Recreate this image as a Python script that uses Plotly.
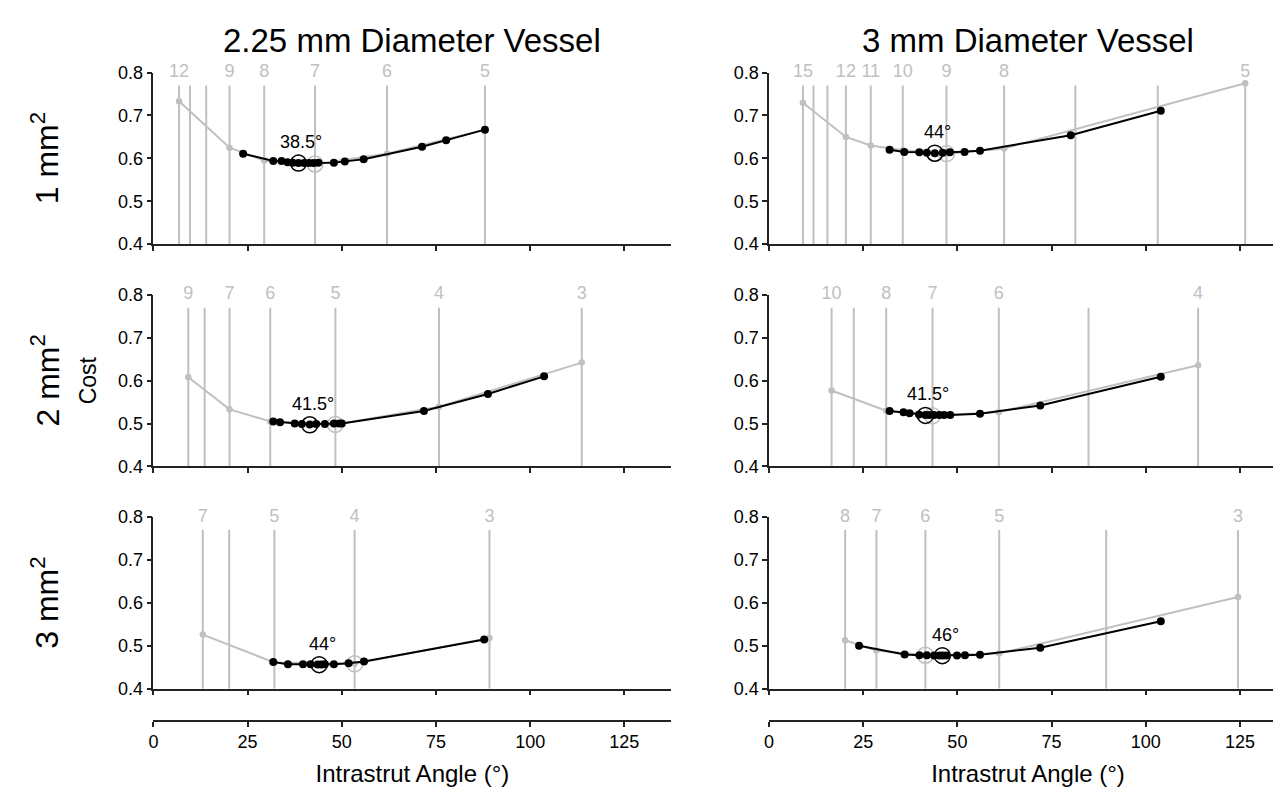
import plotly.graph_objects as go

# ---------------- data ----------------
col_titles = ["2.25 mm Diameter Vessel", "3 mm Diameter Vessel"]
row_titles = ["1 mm<sup>2</sup>", "2 mm<sup>2</sup>", "3 mm<sup>2</sup>"]
x_ticks = [0, 25, 50, 75, 100, 125]
y_ticks = [0.4, 0.5, 0.6, 0.7, 0.8]

# Panel row1/col1 (2.25 mm vessel, 1 mm2)
p11_strut_angle = [6.8, 9.7, 14.0, 20.2, 29.4, 42.9, 62.0, 88.0]
p11_strut_label = ["12", "", "", "9", "8", "7", "6", "5"]
p11_gray_angle = [6.8, 20.2, 29.4, 42.9, 62.0, 88.0]
p11_gray_cost = [0.733, 0.625, 0.595, 0.587, 0.611, 0.667]
p11_black_angle = [23.8, 31.8, 34.0, 35.6, 37.0, 38.5, 40.0, 41.3, 42.5, 43.8, 47.9, 50.8, 55.8, 71.3, 77.7, 88.0]
p11_black_cost = [0.611, 0.594, 0.594, 0.591, 0.590, 0.589, 0.589, 0.589, 0.589, 0.590, 0.590, 0.593, 0.598, 0.627, 0.642, 0.667]
p11_opt = (38.5, 0.589, "38.5°")
p11_gray_opt = (42.9, 0.587)

# Panel row1/col2 (3 mm vessel, 1 mm2)
p12_strut_angle = [9.0, 11.8, 15.5, 20.4, 27.0, 35.5, 47.1, 62.4, 81.3, 103.2, 126.4]
p12_strut_label = ["15", "", "", "12", "11", "10", "9", "8", "", "", "5"]
p12_gray_angle = [9.0, 20.4, 27.0, 35.5, 47.1, 62.4, 126.4]
p12_gray_cost = [0.7295, 0.650, 0.630, 0.619, 0.611, 0.623, 0.775]
p12_black_angle = [32.0, 35.9, 39.9, 41.9, 44.0, 46.1, 48.0, 51.9, 56.0, 80.1, 104.0]
p12_black_cost = [0.620, 0.615, 0.614, 0.613, 0.612, 0.613, 0.614, 0.615, 0.618, 0.654, 0.711]
p12_opt = (44.0, 0.612, "44°")
p12_gray_opt = (47.1, 0.611)

# Panel row2/col1 (2.25 mm vessel, 2 mm2)
p21_strut_angle = [9.25, 13.6, 20.2, 31.0, 48.3, 75.8, 113.7]
p21_strut_label = ["9", "", "7", "6", "5", "4", "3"]
p21_gray_angle = [9.25, 20.2, 31.0, 48.3, 75.8, 113.7]
p21_gray_cost = [0.608, 0.533, 0.505, 0.498, 0.539, 0.642]
p21_black_angle = [31.8, 33.6, 37.5, 39.4, 41.5, 43.2, 45.5, 47.9, 49.3, 50.0, 71.8, 88.8, 103.7]
p21_black_cost = [0.5045, 0.503, 0.500, 0.499, 0.498, 0.499, 0.499, 0.500, 0.500, 0.500, 0.529, 0.569, 0.610]
p21_opt = (41.5, 0.497, "41.5°")
p21_gray_opt = (48.3, 0.498)

# Panel row2/col2 (3 mm vessel, 2 mm2)
p22_strut_angle = [16.6, 22.5, 31.1, 43.4, 61.0, 84.8, 113.9]
p22_strut_label = ["10", "", "8", "7", "6", "", "4"]
p22_gray_angle = [16.6, 31.1, 43.4, 61.0, 113.9]
p22_gray_cost = [0.577, 0.530, 0.518, 0.527, 0.636]
p22_black_angle = [32.0, 35.7, 37.3, 39.8, 41.5, 42.5, 43.8, 45.2, 46.5, 48.1, 56.0, 72.0, 104.0]
p22_black_cost = [0.529, 0.526, 0.524, 0.521, 0.520, 0.520, 0.520, 0.520, 0.520, 0.520, 0.523, 0.542, 0.609]
p22_opt = (41.5, 0.519, "41.5°")
p22_gray_opt = (43.4, 0.518)

# Panel row3/col1 (2.25 mm vessel, 3 mm2)
p31_strut_angle = [13.1, 20.1, 32.1, 53.4, 89.2]
p31_strut_label = ["7", "", "5", "4", "3"]
p31_gray_angle = [13.1, 32.1, 53.4, 89.2]
p31_gray_cost = [0.526, 0.461, 0.458, 0.518]
p31_black_angle = [31.8, 35.7, 39.7, 41.7, 43.6, 44.6, 45.5, 47.9, 51.8, 55.9, 87.8]
p31_black_cost = [0.462, 0.457, 0.457, 0.457, 0.4565, 0.4565, 0.4568, 0.457, 0.459, 0.4636, 0.5144]
p31_opt = (44.0, 0.456, "44°")
p31_gray_opt = (53.4, 0.458)

# Panel row3/col2 (3 mm vessel, 3 mm2)
p32_strut_angle = [20.2, 28.5, 41.5, 61.1, 89.5, 124.5]
p32_strut_label = ["8", "7", "6", "5", "", "3"]
p32_gray_angle = [20.2, 28.5, 41.5, 61.1, 124.5]
p32_gray_cost = [0.513, 0.489, 0.478, 0.482, 0.6136]
p32_black_angle = [23.9, 36.0, 39.9, 41.9, 43.8, 45.2, 46.1, 47.1, 49.9, 52.0, 56.0, 72.0, 104.0]
p32_black_cost = [0.500, 0.4795, 0.478, 0.478, 0.4775, 0.4773, 0.4772, 0.4773, 0.4775, 0.478, 0.479, 0.4955, 0.557]
p32_opt = (46.0, 0.477, "46°")
p32_gray_opt = (41.5, 0.478)

panels = [
    (p11_strut_angle, p11_strut_label, p11_gray_angle, p11_gray_cost, p11_black_angle, p11_black_cost, p11_opt, p11_gray_opt),
    (p12_strut_angle, p12_strut_label, p12_gray_angle, p12_gray_cost, p12_black_angle, p12_black_cost, p12_opt, p12_gray_opt),
    (p21_strut_angle, p21_strut_label, p21_gray_angle, p21_gray_cost, p21_black_angle, p21_black_cost, p21_opt, p21_gray_opt),
    (p22_strut_angle, p22_strut_label, p22_gray_angle, p22_gray_cost, p22_black_angle, p22_black_cost, p22_opt, p22_gray_opt),
    (p31_strut_angle, p31_strut_label, p31_gray_angle, p31_gray_cost, p31_black_angle, p31_black_cost, p31_opt, p31_gray_opt),
    (p32_strut_angle, p32_strut_label, p32_gray_angle, p32_gray_cost, p32_black_angle, p32_black_cost, p32_opt, p32_gray_opt),
]

# ---------------- styling / layout ----------------
W, H = 1281, 794
FONT = "Liberation Sans, Arial, Helvetica, sans-serif"
GRAY = "#c0c0c0"
AX = "#222222"
x_dom = [[141 / W, 661 / W], [759 / W, 1279 / W]]
y_dom = [[1 - 232 / H, 1 - 56 / H], [1 - 460 / H, 1 - 284 / H], [1 - 688 / H, 1 - 512 / H]]
line_top = 0.77
x_range = [0, 137.5]

fig = go.Figure()
layout = dict(
    width=W, height=H, margin=dict(l=0, r=0, t=0, b=0),
    paper_bgcolor="white", plot_bgcolor="white", showlegend=False,
    font=dict(family=FONT, size=18, color="black"),
)

annotations = []
for i, (sa, sl, ga, gc, ba, bc, opt, gopt) in enumerate(panels):
    r, c = divmod(i, 2)
    n = i + 1
    xs = "x" if n == 1 else f"x{n}"
    ys = "y" if n == 1 else f"y{n}"
    xk = "xaxis" if n == 1 else f"xaxis{n}"
    yk = "yaxis" if n == 1 else f"yaxis{n}"
    # vertical strut-count lines
    vx, vy = [], []
    for a in sa:
        vx += [a, a, None]
        vy += [0.4, line_top, None]
    fig.add_trace(go.Scatter(x=vx, y=vy, mode="lines", line=dict(color=GRAY, width=2),
                             xaxis=xs, yaxis=ys, hoverinfo="skip"))
    # labels of strut counts (only the labelled lines)
    lab_x = [a for a, l in zip(sa, sl) if l]
    lab_t = [l for l in sl if l]
    fig.add_trace(go.Scatter(x=lab_x, y=[0.8] * len(lab_x), mode="text", text=lab_t,
                             textposition="middle center", cliponaxis=False,
                             textfont=dict(color=GRAY, size=18, family=FONT),
                             xaxis=xs, yaxis=ys, hoverinfo="skip"))
    # discrete (gray) curve
    fig.add_trace(go.Scatter(x=ga, y=gc, mode="lines+markers",
                             line=dict(color=GRAY, width=2), marker=dict(color=GRAY, size=6.5),
                             xaxis=xs, yaxis=ys, cliponaxis=False))
    fig.add_trace(go.Scatter(x=[gopt[0]], y=[gopt[1]], mode="markers",
                             marker=dict(symbol="circle-open", size=16, color=GRAY, line=dict(width=1.5)),
                             xaxis=xs, yaxis=ys, cliponaxis=False))
    # continuous (black) curve
    fig.add_trace(go.Scatter(x=ba, y=bc, mode="lines+markers",
                             line=dict(color="black", width=2), marker=dict(color="black", size=8),
                             xaxis=xs, yaxis=ys, cliponaxis=False))
    fig.add_trace(go.Scatter(x=[opt[0]], y=[opt[1]], mode="markers",
                             marker=dict(symbol="circle-open", size=16, color="black", line=dict(width=1.5)),
                             xaxis=xs, yaxis=ys, cliponaxis=False))
    annotations.append(dict(x=opt[0], y=opt[1], xref=xs, yref=ys, text=opt[2], showarrow=False,
                            xshift=3, yshift=21, font=dict(size=18, color="black", family=FONT)))

    layout[xk] = dict(domain=x_dom[c], anchor=ys, range=x_range, showline=True, linecolor=AX,
                      linewidth=1.5, ticks="outside", ticklen=5, tickwidth=1.5, tickcolor=AX,
                      tickvals=x_ticks, showticklabels=False, showgrid=False, zeroline=False)
    layout[yk] = dict(domain=y_dom[r], anchor=xs, range=[0.4, 0.8], showline=True, linecolor=AX,
                      linewidth=1.5, ticks="outside", ticklen=5, tickwidth=1.5, tickcolor=AX,
                      tickvals=y_ticks, tickformat=".1f", showgrid=False, zeroline=False,
                      tickfont=dict(size=18, family=FONT, color="black"))

# separate bottom axes with labels
for c, base in enumerate([5, 6]):
    n = 7 + c
    layout[f"xaxis{n}"] = dict(overlaying=f"x{base}", anchor="free", position=1 - 721 / H,
                               range=x_range, showline=True, linecolor=AX, linewidth=1.5,
                               ticks="outside", ticklen=5, tickwidth=1.5, tickcolor=AX,
                               tickvals=x_ticks, showgrid=False, zeroline=False,
                               tickfont=dict(size=18, family=FONT, color="black"),
                               title=dict(text="Intrastrut Angle (°)", standoff=13,
                                          font=dict(size=24, family=FONT, color="black")))
    fig.add_trace(go.Scatter(x=[None], y=[None], xaxis=f"x{n}", yaxis=f"y{base}",
                             mode="markers", hoverinfo="skip"))

# column titles
for c, t in enumerate(col_titles):
    annotations.append(dict(x=(x_dom[c][0] + x_dom[c][1]) / 2, y=1 - 23.5 / H, xref="paper", yref="paper",
                            text=t, showarrow=False, xanchor="center", yanchor="middle",
                            font=dict(size=33, family=FONT, color="black")))
# row titles
for r, t in enumerate(row_titles):
    annotations.append(dict(x=32 / W, y=(y_dom[r][0] + y_dom[r][1]) / 2, xref="paper", yref="paper",
                            text=t, showarrow=False, textangle=-90, xanchor="center", yanchor="middle",
                            font=dict(size=32, family=FONT, color="black")))
annotations.append(dict(x=75 / W, y=1 - 372 / H, xref="paper", yref="paper", text="Cost",
                        showarrow=False, textangle=-90, xanchor="center", yanchor="middle",
                        font=dict(size=23, family=FONT, color="black")))

layout["annotations"] = annotations
fig.update_layout(**layout)
fig.write_html("out.html")
